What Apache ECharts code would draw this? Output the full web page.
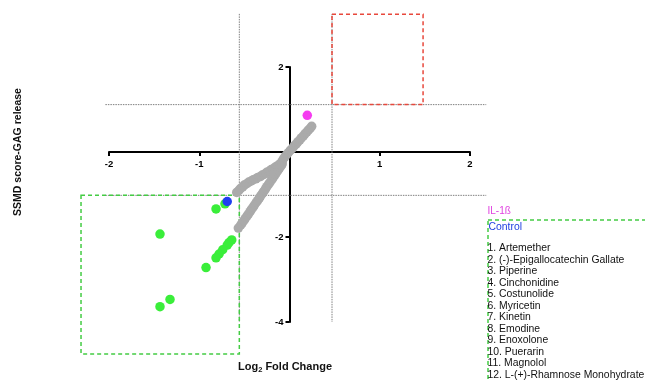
<!DOCTYPE html>
<html>
<head>
<meta charset="utf-8">
<script src="https://cdn.jsdelivr.net/npm/echarts@6/dist/echarts.min.js"></script>
<style>
html,body{margin:0;padding:0;background:#fff;}
#chart{width:645px;height:380px;}
</style>
</head>
<body>
<div id="chart"></div>
<script>
// ---- data ----
const xTicks = [-2, -1, 0, 1, 2];
const yTicks = [-4, -2, 0, 2];

const il1bPoints = [[0.197, 0.863]];
const controlPoints = [[-0.69, -1.165]];
const compoundPoints = [
  [-0.814, -1.34], [-0.715, -1.22], [-1.435, -1.93], [-0.64, -2.07],
  [-0.67, -2.13], [-0.69, -2.19], [-0.74, -2.30], [-0.78, -2.40],
  [-0.814, -2.49], [-0.925, -2.72], [-1.324, -3.47], [-1.435, -3.64]
];
const otherPoints = [
  [0.246, 0.604], [0.229, 0.558], [0.209, 0.517], [0.191, 0.468], [0.171, 0.428],
  [0.152, 0.373], [0.131, 0.332], [0.113, 0.28], [0.092, 0.238], [0.073, 0.184],
  [0.051, 0.142], [0.032, 0.088], [0.011, 0.043], [-0.011, -0.012], [-0.029, -0.058],
  [-0.051, -0.113], [-0.069, -0.165],
  [-0.082, -0.228], [-0.101, -0.272], [-0.124, -0.309], [-0.152, -0.347], [-0.174, -0.382],
  [-0.203, -0.413], [-0.224, -0.452], [-0.252, -0.478], [-0.273, -0.517], [-0.302, -0.543],
  [-0.324, -0.577], [-0.351, -0.598], [-0.373, -0.632], [-0.402, -0.653], [-0.424, -0.682],
  [-0.451, -0.708], [-0.474, -0.747], [-0.502, -0.778], [-0.519, -0.822], [-0.542, -0.858],
  [-0.561, -0.903], [-0.585, -0.951],
  [-0.081, -0.283], [-0.094, -0.328], [-0.113, -0.387], [-0.129, -0.438], [-0.147, -0.492],
  [-0.162, -0.543], [-0.181, -0.602], [-0.196, -0.653], [-0.216, -0.712], [-0.231, -0.758],
  [-0.251, -0.817], [-0.266, -0.868], [-0.285, -0.927], [-0.299, -0.973], [-0.319, -1.032],
  [-0.334, -1.083], [-0.353, -1.142], [-0.369, -1.188], [-0.388, -1.247], [-0.403, -1.298],
  [-0.422, -1.352], [-0.437, -1.403], [-0.456, -1.462], [-0.471, -1.508], [-0.491, -1.567],
  [-0.506, -1.618], [-0.525, -1.672], [-0.54, -1.718], [-0.567, -1.79]
];

// threshold lines and boxes (data coordinates)
const thresholdX = [-0.556, 0.471];
const thresholdY = [1.115, -1.02];
const vLineSpan = [3.25, -4];
const hLineSpan = [-2.04, 2.18];
const upBox = [0.471, 1.48, 1.115, 3.24];     // x1, x2, y1, y2
const downBox = [-2.31, -0.556, -1.02, -4.75];

const legendHeader = ['IL-1ß', 'Control'];
const compoundNames = [
  '1. Artemether', '2. (-)-Epigallocatechin Gallate', '3. Piperine', '4. Cinchonidine',
  '5. Costunolide', '6. Myricetin', '7. Kinetin', '8. Emodine', '9. Enoxolone',
  '10. Puerarin', '11. Magnolol', '12. L-(+)-Rhamnose Monohydrate'
];

// ---- build ----
const lineSegs = [];
thresholdX.forEach(x => lineSegs.push([x, vLineSpan[0], x, vLineSpan[1]]));
thresholdY.forEach(y => lineSegs.push([hLineSpan[0], y, hLineSpan[1], y]));

const FONT = '"Liberation Sans", Arial, Helvetica, sans-serif';

// grid geometry; the axes are shifted onto the zero lines with offset
const G = {left: 109, right: 175, top: 67, bottom: 58, w: 645, h: 380};
const gridW = G.w - G.left - G.right;
const gridH = G.h - G.top - G.bottom;
const xAxisShift = gridH * (0 - yTicks[0]) / (yTicks[yTicks.length - 1] - yTicks[0]);
const yAxisShift = gridW * (0 - xTicks[0]) / (xTicks[xTicks.length - 1] - xTicks[0]);

const chart = echarts.init(document.getElementById('chart'), null, {renderer: 'canvas'});

const legendGraphics = [];
legendGraphics.push({
  type: 'rect', left: 485.5, top: 217.5, silent: true,
  shape: {x: 0, y: 0, width: 220, height: 220},
  style: {fill: 'none', stroke: '#44cc44', lineWidth: 1.5, lineDash: [4, 3]}
});
legendGraphics.push({
  type: 'text', x: 487.5, y: 211, silent: true,
  style: {text: legendHeader[0], fill: '#e040e0', font: '10px ' + FONT, verticalAlign: 'middle'}
});
legendGraphics.push({
  type: 'text', x: 488.5, y: 227, silent: true,
  style: {text: legendHeader[1], fill: '#2040e0', font: '10.4px ' + FONT, verticalAlign: 'middle'}
});
compoundNames.forEach((n, i) => {
  legendGraphics.push({
    type: 'text', x: 487.5, y: 248.3 + i * 11.5, silent: true,
    style: {text: n, fill: '#111', font: '10.4px ' + FONT, verticalAlign: 'middle'}
  });
});
legendGraphics.push({
  type: 'text', x: 18, y: 152, rotation: Math.PI / 2, silent: true,
  style: {text: 'SSMD score-GAG release', fill: '#111', font: 'bold 10.5px ' + FONT,
          align: 'center', verticalAlign: 'middle'}
});
legendGraphics.push({
  type: 'text', x: 285, y: 367, silent: true,
  style: {
    text: '{a|Log}{s|2}{a| Fold Change}',
    align: 'center', verticalAlign: 'middle',
    rich: {
      a: {fontFamily: FONT, fontWeight: 'bold', fontSize: 11, fill: '#111'},
      s: {fontFamily: FONT, fontWeight: 'bold', fontSize: 7.5, fill: '#111', padding: [6, 0, 0, 0]}
    }
  }
});

const option = {
  backgroundColor: '#fff',
  animation: false,
  grid: {left: G.left, right: G.right, top: G.top, bottom: G.bottom, containLabel: false},
  xAxis: {
    type: 'value', min: xTicks[0], max: xTicks[xTicks.length - 1], interval: 1,
    position: 'bottom', offset: -xAxisShift,
    axisLine: {onZero: false, lineStyle: {color: '#000', width: 2}},
    axisTick: {show: true, length: 4, lineStyle: {color: '#000', width: 2}},
    axisLabel: {
      margin: 7, color: '#000', fontFamily: FONT, fontWeight: 'bold', fontSize: 9.5,
      formatter: v => (v === 0 ? '' : String(v))
    },
    splitLine: {show: false}
  },
  yAxis: {
    type: 'value', min: yTicks[0], max: yTicks[yTicks.length - 1], interval: 2,
    position: 'left', offset: -yAxisShift,
    axisLine: {show: true, onZero: false, lineStyle: {color: '#000', width: 2}},
    axisTick: {show: true, length: 4, lineStyle: {color: '#000', width: 2}},
    axisLabel: {
      margin: 6, color: '#000', fontFamily: FONT, fontWeight: 'bold', fontSize: 9.5,
      formatter: v => (v === 0 ? '' : String(v))
    },
    splitLine: {show: false}
  },
  graphic: legendGraphics,
  series: [
    {
      type: 'custom', name: 'thresholds', clip: false, z: 1, silent: true,
      data: lineSegs,
      renderItem: (params, api) => {
        const p1 = api.coord([api.value(0), api.value(1)]);
        const p2 = api.coord([api.value(2), api.value(3)]);
        return {
          type: 'line',
          shape: {x1: p1[0], y1: p1[1], x2: p2[0], y2: p2[1]},
          style: {stroke: '#808080', lineWidth: 1, lineDash: [1.5, 1]}
        };
      }
    },
    {
      type: 'custom', name: 'boxes', clip: false, z: 2, silent: true,
      data: [upBox.concat([0]), downBox.concat([1])],
      renderItem: (params, api) => {
        const a = api.coord([api.value(0), api.value(2)]);
        const b = api.coord([api.value(1), api.value(3)]);
        const up = api.value(4) === 0;
        return {
          type: 'rect',
          shape: {x: Math.min(a[0], b[0]), y: Math.min(a[1], b[1]),
                  width: Math.abs(b[0] - a[0]), height: Math.abs(b[1] - a[1])},
          style: {fill: 'none', stroke: up ? '#e8483c' : '#44cc44', lineWidth: 1.5, lineDash: [4, 3]}
        };
      }
    },
    {
      type: 'scatter', name: 'Other', z: 3, symbolSize: 9.5, data: otherPoints,
      itemStyle: {color: '#aaaaaa', opacity: 1}
    },
    {
      type: 'scatter', name: 'Compounds', z: 4, symbolSize: 9.5, data: compoundPoints,
      itemStyle: {color: '#3aee3a', opacity: 1}
    },
    {
      type: 'scatter', name: 'Control', z: 5, symbolSize: 9.5, data: controlPoints,
      itemStyle: {color: '#1f3ff0', opacity: 1}
    },
    {
      type: 'scatter', name: 'IL-1ß', z: 5, symbolSize: 9.5, data: il1bPoints,
      itemStyle: {color: '#f53cf0', opacity: 1}
    }
  ]
};
chart.setOption(option);
</script>
</body>
</html>
